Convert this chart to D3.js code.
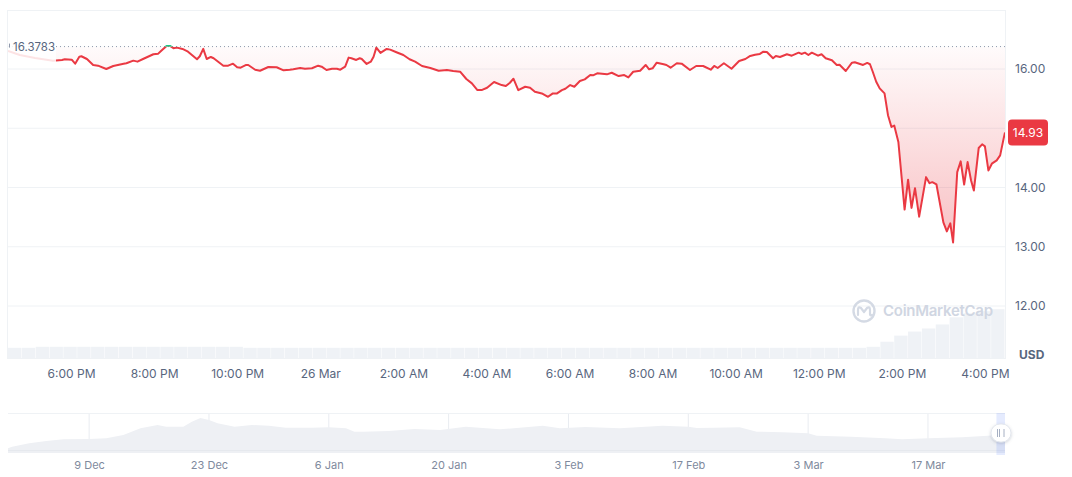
<!DOCTYPE html>
<html>
<head>
<meta charset="utf-8">
<script src="https://cdn.jsdelivr.net/npm/d3@7"></script>
<style>
  body { margin: 0; background: #fff; font-family: Inter, "Noto Sans", sans-serif; }
  svg text { font-family: Inter, "Noto Sans", sans-serif; }
</style>
</head>
<body>
<div id="chart"></div>
<script>
// minutes after 25 Mar 16:29, and the price at that minute (USD)
const priceMinutes = [0, 17, 39, 65, 78, 82, 92, 97, 103, 106, 114, 123, 130, 142, 152, 167, 171, 181, 187, 195,
    210, 217, 221, 229, 234, 239, 244, 252, 260, 273, 277, 282, 287, 293, 297, 311, 318, 325, 331, 336,
    344, 347, 357, 364, 376, 388, 398, 407, 412, 422, 429, 439, 448, 453, 460, 468, 475, 480, 487, 492,
    496, 503, 508, 511, 518, 524, 528, 532, 538, 547, 552, 561, 571, 580, 588, 598, 610, 622, 634, 643,
    653, 662, 670, 678, 684, 692, 702, 713, 719, 725, 730, 737, 747, 754, 761, 771, 780, 787, 793, 800,
    805, 812, 818, 826, 833, 841, 845, 851, 865, 872, 882, 890, 896, 903, 913, 921, 926, 931, 937, 947,
    951, 957, 966, 973, 985, 994, 1004, 1015, 1020, 1025, 1034, 1045, 1056, 1065, 1072, 1079, 1086, 1091, 1096, 1105,
    1109, 1115, 1125, 1132, 1142, 1146, 1151, 1156, 1161, 1170, 1175, 1181, 1190, 1197, 1201, 1210, 1219, 1223, 1235, 1241,
    1245, 1249, 1254, 1259, 1266, 1271, 1276, 1280, 1286, 1295, 1300, 1305, 1310, 1316, 1326, 1331, 1335, 1341, 1351, 1356,
    1361, 1365, 1371, 1376, 1381, 1386, 1391, 1395, 1402, 1407, 1411, 1416, 1421, 1428, 1433, 1438, 1440];
const prices = [16.305, 16.237, 16.186, 16.141, 16.153, 16.164, 16.158, 16.090, 16.208, 16.215, 16.169, 16.068, 16.056, 16.000, 16.051, 16.090, 16.097, 16.141, 16.124, 16.169,
    16.249, 16.259, 16.305, 16.390, 16.390, 16.351, 16.361, 16.339, 16.293, 16.164, 16.215, 16.339, 16.169, 16.203, 16.181, 16.056, 16.056, 16.090, 16.029, 16.022,
    16.068, 16.068, 15.988, 15.971, 16.034, 16.029, 15.978, 15.988, 15.995, 16.017, 16.005, 16.012, 16.056, 16.039, 15.983, 16.005, 16.005, 15.988, 16.039, 16.192,
    16.181, 16.153, 16.181, 16.169, 16.085, 16.124, 16.208, 16.361, 16.271, 16.339, 16.327, 16.283, 16.237, 16.164, 16.124, 16.051, 16.017, 15.971, 15.983, 15.966,
    15.954, 15.831, 15.758, 15.644, 15.644, 15.683, 15.780, 15.729, 15.712, 15.768, 15.836, 15.644, 15.700, 15.683, 15.615, 15.588, 15.531, 15.588, 15.588, 15.644,
    15.666, 15.729, 15.700, 15.797, 15.825, 15.898, 15.893, 15.927, 15.910, 15.937, 15.881, 15.898, 15.859, 15.954, 15.971, 16.068, 15.995, 16.012, 16.107, 16.080,
    16.068, 16.022, 16.097, 16.090, 15.983, 16.051, 16.051, 15.988, 16.051, 16.017, 16.097, 16.005, 16.136, 16.169, 16.220, 16.242, 16.254, 16.293, 16.288, 16.181,
    16.220, 16.203, 16.249, 16.225, 16.276, 16.254, 16.276, 16.237, 16.276, 16.225, 16.249, 16.181, 16.147, 16.068, 16.073, 15.966, 16.107, 16.114, 16.068, 16.102,
    16.080, 15.954, 15.785, 15.673, 15.588, 15.220, 15.022, 15.046, 14.768, 13.627, 14.131, 13.656, 13.988, 13.508, 14.175, 14.073, 14.090, 14.051, 13.412, 13.259,
    13.395, 13.073, 14.259, 14.441, 14.051, 14.429, 14.119, 13.949, 14.666, 14.729, 14.695, 14.288, 14.402, 14.458, 14.542, 14.825, 14.930];
const openPrice = 16.3783;
const gridPrices = [12, 13, 14, 15, 16];
// 15.00 sits under the last price tag, so it is not labelled
const labelPrices = [12, 13, 14, 16];

// volume per 20 minute slot (relative units)
const volumes = [11, 11, 12, 12, 12, 12, 12, 12, 12, 12, 12, 12, 12, 12, 12, 12, 12, 11, 11, 11,
    11, 11, 11, 11, 11, 11, 11, 11, 11, 11, 11, 11, 11, 11, 11, 11, 11, 11, 11, 11,
    11, 11, 11, 11, 11, 11, 11, 11, 11, 11, 11, 11, 11, 11, 11, 11, 11, 11, 11, 11,
    11, 11, 12, 17, 23, 27, 30, 34, 41, 45, 47, 49];

// long range navigator
const navDates = ["2024-11-29", "2024-11-30", "2024-12-02", "2024-12-04", "2024-12-06", "2024-12-09", "2024-12-11", "2024-12-13",
    "2024-12-15", "2024-12-17", "2024-12-18", "2024-12-20", "2024-12-21", "2024-12-22", "2024-12-23", "2024-12-24", "2024-12-26",
    "2024-12-28", "2024-12-30", "2025-01-01", "2025-01-04", "2025-01-06", "2025-01-08", "2025-01-09", "2025-01-10", "2025-01-13",
    "2025-01-16", "2025-01-19", "2025-01-22", "2025-01-26", "2025-01-31", "2025-02-02", "2025-02-05", "2025-02-09", "2025-02-12",
    "2025-02-14", "2025-02-17", "2025-02-18", "2025-02-20", "2025-02-23", "2025-02-25", "2025-02-28", "2025-03-03", "2025-03-04",
    "2025-03-08", "2025-03-12", "2025-03-14", "2025-03-17", "2025-03-21", "2025-03-24", "2025-03-25", "2025-03-26"];
const navPrices = [8.0, 9.65, 11.35, 12.5, 13.35, 13.5, 13.85, 15.5,
    18.85, 20.5, 19.65, 19.65, 22.15, 24.0, 23.0, 21.35, 19.65,
    20.5, 20.15, 19.15, 19.15, 19.35, 18.85, 17.15, 17.15, 17.5,
    18.5, 18.0, 19.65, 18.35, 20.15, 18.85, 19.5, 18.85, 19.65,
    20.15, 19.65, 19.0, 19.15, 19.35, 17.15, 16.85, 16.35, 15.15,
    14.65, 13.85, 13.35, 13.85, 14.35, 15.15, 15.5, 15.5];
const navTicks = ["2024-12-09", "2024-12-23", "2025-01-06", "2025-01-20", "2025-02-03", "2025-02-17", "2025-03-03", "2025-03-17"];

const width = 1072, height = 477;
const plot = {left: 8, right: 1005, top: 10, bottom: 358};
const navBox = {top: 413, bottom: 453};
const red = "#ea3943", green = "#16c784", grid = "#eff2f5", textColor = "#58667e";

const startTime = new Date(2025, 2, 25, 16, 29);
const timeAt = m => new Date(startTime.getTime() + m * 60000);
const parseDay = d3.timeParse("%Y-%m-%d");

function show(sel) {
    const points = priceMinutes.map((m, i) => ({t: timeAt(m), v: prices[i]}));

    const x = d3.scaleTime()
        .domain([startTime, timeAt(1440)])
        .range([plot.left, plot.right]);
    const y = d3.scaleLinear()
        .domain([12, 16])
        .range([306, 69]);
    const yVol = d3.scaleLinear()
        .domain([0, 60])
        .range([359, 298]);

    const svg = d3.select(sel).append("svg")
        .attr("width", width)
        .attr("height", height);

    const defs = svg.append("defs");
    const yOpen = y(openPrice);

    defs.append("clipPath").attr("id", "below")
        .append("rect").attr("x", plot.left).attr("y", yOpen)
        .attr("width", plot.right - plot.left).attr("height", plot.bottom - yOpen);
    defs.append("clipPath").attr("id", "above")
        .append("rect").attr("x", plot.left).attr("y", 0)
        .attr("width", plot.right - plot.left).attr("height", yOpen);

    const gRed = defs.append("linearGradient").attr("id", "redFill")
        .attr("gradientUnits", "userSpaceOnUse")
        .attr("x1", 0).attr("x2", 0).attr("y1", yOpen).attr("y2", y(13));
    gRed.append("stop").attr("offset", 0).attr("stop-color", red).attr("stop-opacity", 0.02);
    gRed.append("stop").attr("offset", 1).attr("stop-color", red).attr("stop-opacity", 0.32);

    const gGreen = defs.append("linearGradient").attr("id", "greenFill")
        .attr("gradientUnits", "userSpaceOnUse")
        .attr("x1", 0).attr("x2", 0).attr("y1", yOpen).attr("y2", yOpen - 10);
    gGreen.append("stop").attr("offset", 0).attr("stop-color", green).attr("stop-opacity", 0.05);
    gGreen.append("stop").attr("offset", 1).attr("stop-color", green).attr("stop-opacity", 0.25);

    const shadow = defs.append("filter").attr("id", "shadow")
        .attr("x", "-50%").attr("y", "-50%").attr("width", "200%").attr("height", "200%");
    shadow.append("feDropShadow").attr("dx", 0).attr("dy", 1).attr("stdDeviation", 1.5)
        .attr("flood-color", "#58667e").attr("flood-opacity", 0.3);

    // volume bars
    svg.append("g")
        .selectAll("rect")
        .data(volumes)
        .enter().append("rect")
        .attr("x", (d, i) => x(timeAt(i * 20)))
        .attr("width", (d, i) => x(timeAt(i * 20 + 20)) - x(timeAt(i * 20)) - 0.5)
        .attr("y", d => yVol(d))
        .attr("height", d => yVol(0) - yVol(d))
        .attr("fill", "#eff2f6");

    // grid + frame
    svg.append("g")
        .selectAll("line")
        .data(gridPrices)
        .enter().append("line")
        .attr("x1", plot.left).attr("x2", plot.right)
        .attr("y1", d => y(d)).attr("y2", d => y(d))
        .attr("stroke", grid);
    svg.append("rect")
        .attr("x", plot.left - 0.5).attr("y", plot.top + 0.5)
        .attr("width", plot.right - plot.left + 1).attr("height", plot.bottom - plot.top)
        .attr("fill", "none").attr("stroke", grid);

    // filled band between the price and the opening price
    const area = d3.area()
        .x(d => x(d.t))
        .y0(yOpen)
        .y1(d => y(d.v));
    svg.append("path").datum(points)
        .attr("d", area).attr("fill", "url(#redFill)").attr("clip-path", "url(#below)");
    svg.append("path").datum(points)
        .attr("d", area).attr("fill", "url(#greenFill)").attr("clip-path", "url(#above)");

    svg.append("line")
        .attr("x1", plot.left).attr("x2", plot.right)
        .attr("y1", yOpen).attr("y2", yOpen)
        .attr("stroke", "#8f98ab").attr("stroke-width", 1)
        .attr("stroke-dasharray", "1,3");

    const line = d3.line()
        .x(d => x(d.t))
        .y(d => y(d.v));
    svg.append("path").datum(points)
        .attr("d", line).attr("fill", "none").attr("stroke", red)
        .attr("stroke-width", 2).attr("stroke-linejoin", "round")
        .attr("clip-path", "url(#below)");
    svg.append("path").datum(points)
        .attr("d", line).attr("fill", "none").attr("stroke", green)
        .attr("stroke-width", 2).attr("stroke-linejoin", "round")
        .attr("clip-path", "url(#above)");

    // opening price label, its box washes out the start of the line
    svg.append("rect")
        .attr("x", plot.left).attr("y", yOpen - 10)
        .attr("width", 48).attr("height", 26)
        .attr("fill", "#fff").attr("fill-opacity", 0.86);
    svg.append("line")
        .attr("x1", plot.left + 1.5).attr("x2", plot.left + 1.5)
        .attr("y1", yOpen - 3).attr("y2", yOpen + 1)
        .attr("stroke", "#8f98ab");
    svg.append("text")
        .attr("x", plot.left + 5).attr("y", yOpen)
        .attr("dy", "0.35em")
        .attr("font-size", 11.5)
        .attr("fill", textColor)
        .text(openPrice.toFixed(4));

    // watermark
    const wm = svg.append("g").attr("transform", "translate(864,311)").attr("opacity", 0.9);
    wm.append("circle").attr("r", 10.5).attr("fill", "none")
        .attr("stroke", "#d0d6e2").attr("stroke-width", 2.4);
    wm.append("path")
        .attr("d", "M-6,4 L-6,-1 Q-6,-5 -3,-3 L0,1 L3,-3 Q6,-5 6,-1 L6,3 Q6,5 8,4")
        .attr("fill", "none").attr("stroke", "#d0d6e2").attr("stroke-width", 2.2)
        .attr("stroke-linecap", "round").attr("stroke-linejoin", "round");
    svg.append("text")
        .attr("x", 883).attr("y", 311).attr("dy", "0.35em")
        .attr("font-size", 15).attr("font-weight", 600)
        .attr("textLength", 110)
        .attr("fill", "#d0d6e2")
        .text("CoinMarketCap");

    // y axis
    const yAxis = d3.axisRight(y)
        .tickValues(labelPrices)
        .tickSize(0)
        .tickPadding(10)
        .tickFormat(d3.format(".2f"));
    const gy = svg.append("g")
        .attr("transform", "translate(" + plot.right + ",0)")
        .call(yAxis);
    gy.select(".domain").remove();
    gy.selectAll("text").attr("font-size", 12).attr("fill", textColor).attr("font-family", null);

    svg.append("text")
        .attr("x", 1019).attr("y", 359)
        .attr("font-size", 12).attr("font-weight", 700)
        .attr("fill", textColor)
        .text("USD");

    // last price tag
    const last = points[points.length - 1];
    svg.append("rect")
        .attr("x", 1008).attr("y", y(last.v) - 13)
        .attr("width", 40).attr("height", 26).attr("rx", 4)
        .attr("fill", red);
    svg.append("text")
        .attr("x", 1028).attr("y", y(last.v)).attr("dy", "0.35em")
        .attr("text-anchor", "middle")
        .attr("font-size", 12).attr("fill", "#fff")
        .text(last.v.toFixed(2));

    // x axis
    const xAxis = d3.axisBottom(x)
        .ticks(d3.timeHour.every(2))
        .tickSize(0)
        .tickPadding(11)
        .tickFormat(d => d.getHours() === 0 ? d3.timeFormat("%-d %b")(d) : d3.timeFormat("%-I:%M %p")(d));
    const gx = svg.append("g")
        .attr("transform", "translate(0," + plot.bottom + ")")
        .call(xAxis);
    gx.select(".domain").remove();
    gx.selectAll("text").attr("font-size", 12).attr("fill", textColor).attr("font-family", null);

    showNavigator(svg);
}

function showNavigator(svg) {
    const navData = navDates.map((d, i) => ({date: parseDay(d), v: navPrices[i]}));

    const nx = d3.scaleTime()
        .domain([new Date(2024, 10, 29, 12, 30), new Date(2025, 2, 26)])
        .range([plot.left, plot.right]);
    const ny = d3.scaleLinear()
        .domain([8, 26.5])
        .range([450, 413]);

    svg.select("defs").append("clipPath").attr("id", "navClip")
        .append("rect").attr("x", plot.left).attr("y", navBox.top)
        .attr("width", plot.right - plot.left).attr("height", navBox.bottom - navBox.top);

    const g = svg.append("g");

    g.selectAll("line.vgrid")
        .data(navTicks.map(parseDay))
        .enter().append("line")
        .attr("class", "vgrid")
        .attr("x1", d => nx(d)).attr("x2", d => nx(d))
        .attr("y1", navBox.top).attr("y2", 450)
        .attr("stroke", "#e9ecf1");

    g.append("line")
        .attr("x1", plot.left).attr("x2", plot.right)
        .attr("y1", navBox.top + 0.5).attr("y2", navBox.top + 0.5)
        .attr("stroke", grid);

    g.append("path").datum(navData)
        .attr("d", d3.area().x(d => nx(d.date)).y0(navBox.bottom).y1(d => ny(d.v)))
        .attr("fill", "#eef0f4")
        .attr("clip-path", "url(#navClip)");

    g.append("line")
        .attr("x1", plot.left).attr("x2", plot.right)
        .attr("y1", 450.5).attr("y2", 450.5)
        .attr("stroke", "#e6e9ee");

    // selected day
    g.append("rect")
        .attr("x", nx(new Date(2025, 2, 25))).attr("y", navBox.top)
        .attr("width", nx(new Date(2025, 2, 26)) - nx(new Date(2025, 2, 25)))
        .attr("height", navBox.bottom - navBox.top + 2)
        .attr("fill", "#3861fb").attr("fill-opacity", 0.13);

    const handle = g.append("g").attr("transform", "translate(1001,433)");
    handle.append("rect")
        .attr("x", -10).attr("y", -9).attr("width", 20).attr("height", 18).attr("rx", 9)
        .attr("fill", "#fff").attr("stroke", "#e3e7ee")
        .attr("filter", "url(#shadow)");
    [-3.5, -1.5, 3].forEach(dx => {
        handle.append("line")
            .attr("x1", dx).attr("x2", dx).attr("y1", -4).attr("y2", 4)
            .attr("stroke", "#a6b0c3").attr("stroke-width", 1);
    });

    const navAxis = d3.axisBottom(nx)
        .tickValues(navTicks.map(parseDay))
        .tickSize(0)
        .tickPadding(8)
        .tickFormat(d3.timeFormat("%-d %b"));
    const ga = svg.append("g")
        .attr("transform", "translate(0," + navBox.bottom + ")")
        .call(navAxis);
    ga.select(".domain").remove();
    ga.selectAll("text").attr("font-size", 11).attr("fill", "#808a9d").attr("font-family", null);
}

show("#chart");
</script>
</body>
</html>
